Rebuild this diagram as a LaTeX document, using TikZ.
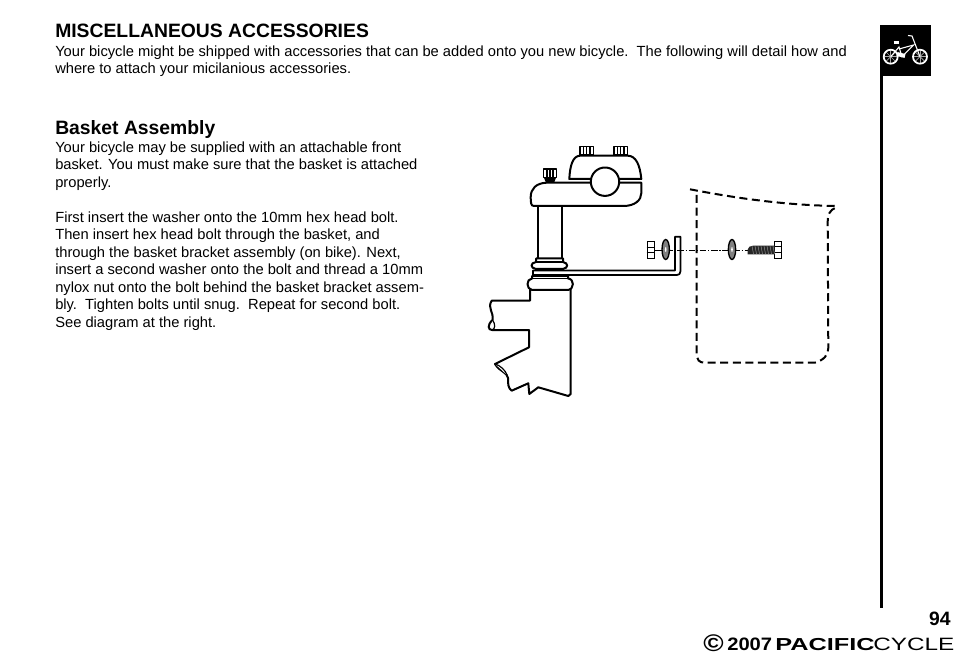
\documentclass[tikz,border=0pt]{standalone}
\usepackage{fontspec}
\setmainfont{Liberation Sans}
\usetikzlibrary{positioning}
\usetikzlibrary{calc}
\usetikzlibrary{shapes.geometric}
\tikzset{
  bodytext/.style={anchor=north west, inner sep=0pt, align=left, font=\fontsize{11.03pt}{13.1pt}\selectfont},
  headtext/.style={anchor=base west, inner sep=0pt, font=\fontsize{14.5pt}{16pt}\selectfont\bfseries},
  part/.style={draw=black, line width=1.5pt, line join=round, fill=white},
  hair/.style={draw=black, line width=0.9pt, fill=white},
  basket/.style={draw=black, line width=1.5pt, dash pattern=on 6pt off 3.4pt},
  washer/.style={ellipse, draw=black, line width=1pt, fill=black!50, minimum width=5.5pt, minimum height=15pt, inner sep=0pt},
  bikeline/.style={draw=white, line width=0.8pt},
  boltstripe/.style={draw=black!45, line width=0.4pt}
}
\begin{document}
\begin{tikzpicture}[x=0.75pt, y=-0.75pt]
	\useasboundingbox (0,0) rectangle (954,656);

	% text on the left
	\node[headtext] (title) at (55,37.5) {MISCELLANEOUS ACCESSORIES};
	\node[bodytext] (intro) at (55,45.5) {Your bicycle might be shipped with accessories that can be added onto you new bicycle.\ \ The following will detail how and\\where to attach your micilanious accessories.};
	\node[headtext] (basket head) at (55,134.5) {Basket Assembly};
	\node[bodytext] (para a) at (55,141.5) {Your bicycle may be supplied with an attachable front\\basket. You must make sure that the basket is attached\\properly.};
	\node[bodytext] (para b) at (55,211.5) {First insert the washer onto the 10mm hex head bolt.\\Then insert hex head bolt through the basket, and\\through the basket bracket assembly (on bike). Next,\\insert a second washer onto the bolt and thread a 10mm\\nylox nut onto the bolt behind the basket bracket assem-\\bly.\ \ Tighten bolts until snug.\ \ Repeat for second bolt.\\See diagram at the right.};

	% side bar and bike tab
	\fill (880,76) rectangle (883,608);
	\fill (879.5,25) rectangle (931,76);
	\foreach \a in {0,45,...,315}
		{\draw[black!35!white, line width=0.5pt] (890.7,56.7) -- ++(\a:7) (920,56.7) -- ++(\a:7);}
	\draw[bikeline, line width=1.3pt] (890.7,56.7) circle (7);
	\draw[bikeline, line width=1.3pt] (920,56.7) circle (7);
	\draw[bikeline] (890.7,56.7) -- (899,47) -- (902,56.7) -- (913.5,45) -- (899,49);
	\draw[bikeline] (920,56.7) -- (912,36) -- (908,35.5);
	\draw[white, line width=1.6pt] (893.5,42.5) -- (899,42.5);
	\draw[white, line width=3pt] (897,54) -- (905,56);

	% stem
	\draw[part] (537.7,204) rectangle (561.7,260);
	\draw[part] (530,300.7) -- (491.7,300.7) .. controls (487,308) and (494,312) .. (492.5,320)
		.. controls (487,325) and (488,330) .. (492,330) -- (529,330) -- (529,347.3) -- (495,364)
		.. controls (500,372) and (507,372) .. (508,378) .. controls (508,384) and (508,388) .. (511.7,390.7)
		-- (528.3,383.3) -- (529.3,394) -- (538.3,387.3) -- (568.3,396) -- (570.7,394) -- (570.7,288) -- (530,288) -- cycle;
	\draw[hair] (492.5,320) .. controls (495.5,324) and (495.5,329) .. (492,330);
	\draw[hair] (495,364) .. controls (500,365) and (506,371) .. (507,375);

	% bracket
	\draw[part, line width=1.3pt] (533,270.5) -- (675,270.5) -- (675,236.7) -- (680.5,236.7) -- (680.5,271)
		.. controls (680.5,274) and (679,275) .. (677,275) -- (533,275) -- cycle;

	% collars
	\draw[part] (536,258.5) -- (563,258.5) -- (563,262) .. controls (568.5,263) and (568.5,268) .. (563,269) -- (536,269)
		.. controls (530,268) and (530,263) .. (536,262) -- cycle;
	\draw[hair] (536,262) -- (563,262);
	\draw[part] (532,276) -- (568,276) -- (568,278.5) .. controls (574.5,279) and (574.5,289) .. (568,290) -- (532,290)
		.. controls (526,289) and (526,279) .. (532,278.5) -- cycle;
	\draw[hair] (532,278.5) -- (568,278.5);

	% clamp
	\draw[part] (569.3,179) .. controls (570,165) and (573,156) .. (580,155.7) -- (628,155.7)
		.. controls (636,156) and (640,165) .. (641.3,179) -- cycle;
	\draw[part] (641.3,182.7) -- (546.7,182.7) .. controls (536,183) and (530.7,189) .. (530.7,197)
		.. controls (530.7,203) and (531,206) .. (534,206) -- (623.3,206)
		.. controls (635,206) and (641.3,200) .. (641.3,193.3) -- cycle;
	\fill[white] (592,177) rectangle (618,185);
	\draw[part] (605,181.7) circle (14.2);
	\foreach \x in {580,614}
	{
		\draw[part, line width=1.1pt] (\x,146.7) rectangle ++(13.5,8.5);
		\foreach \s in {3.4,6.7,10.1}
			{\draw[line width=1.1pt] ($(\x,146.7)+(\s,0)$) -- ++(0,8.5);}
	}
	\draw[part, line width=1.1pt] (543.5,169) rectangle (556.5,177.7);
	\foreach \s in {547,550,553}
		{\draw[line width=1.1pt] (\s,169) -- (\s,177.7);}
	\fill (544,177.7) -- (556,177.7) -- (554,183) -- (546,183) -- cycle;

	% hardware
	\node[draw, line width=0.8pt, minimum width=5.4pt, minimum height=12.4pt, inner sep=0pt, fill=white] (head l) at (650.8,250) {};
	\draw[line width=0.8pt] ([yshift=2.1pt]head l.west) -- ([yshift=2.1pt]head l.east) ([yshift=-2.1pt]head l.west) -- ([yshift=-2.1pt]head l.east);
	\node[draw, line width=0.8pt, minimum width=5.4pt, minimum height=12.8pt, inner sep=0pt, fill=white] (head r) at (778,249.7) {};
	\draw[line width=0.8pt] ([yshift=2.1pt]head r.west) -- ([yshift=2.1pt]head r.east) ([yshift=-2.1pt]head r.west) -- ([yshift=-2.1pt]head r.east);
	\coordinate (thread tip) at (747.5,250);
	\draw[line width=0.6pt, dash pattern=on 5pt off 1.2pt on 1pt off 1.2pt] (head l.east) -- (thread tip);
	\fill[black!85] (thread tip) .. controls (748,247) and (750,245.7) .. (753,245.7) -- (774.5,245.7) -- (774.5,254.3) -- (747.5,254.3) -- cycle;
	\foreach \x in {752,755,...,773}
		{\draw[boltstripe] (\x,246) -- ++(1.5,8);}
	\node[washer] (washer l) at (665.7,249.5) {};
	\node[washer] (washer r) at (732,249.5) {};
	\fill[white] (washer l.center) ellipse (0.8 and 2.5);
	\fill[white] (washer r.center) ellipse (0.8 and 2.5);

	% basket outline
	\draw[basket] (690,189.3) .. controls (730,197) and (780,205) .. (836,206);
	\draw[basket] (696.7,195) -- (696.7,353) .. controls (696.7,360) and (699,362.7) .. (705,362.7)
		-- (815,362.7) .. controls (824,360) and (828.3,355) .. (828.3,348) -- (827.7,222) .. controls (827.7,214) and (830,210) .. (836,207.5);

	% footer
	\node[anchor=base east, inner sep=0pt, font=\fontsize{14.5pt}{15pt}\selectfont\bfseries] (page) at (951,625) {94};
	\node[anchor=base west, inner sep=0pt, xscale=1.15, font=\fontsize{18pt}{20pt}\selectfont\bfseries] (copy) at (703,651) {©};
	\node[anchor=base west, inner sep=0pt, xscale=1.12, font=\fontsize{13.5pt}{15pt}\selectfont\bfseries] (year) at (727,650.5) {2007};
	\node[anchor=base west, inner sep=0pt, xscale=1.46, font=\fontsize{13pt}{15pt}\selectfont\bfseries] (pacific) at (775,650.5) {PACIFIC};
	\node[anchor=base west, inner sep=0pt, xscale=1.36, font=\fontsize{13.4pt}{15pt}\selectfont] (cycle) at (873,650.5) {CYCLE};
\end{tikzpicture}
\end{document}
